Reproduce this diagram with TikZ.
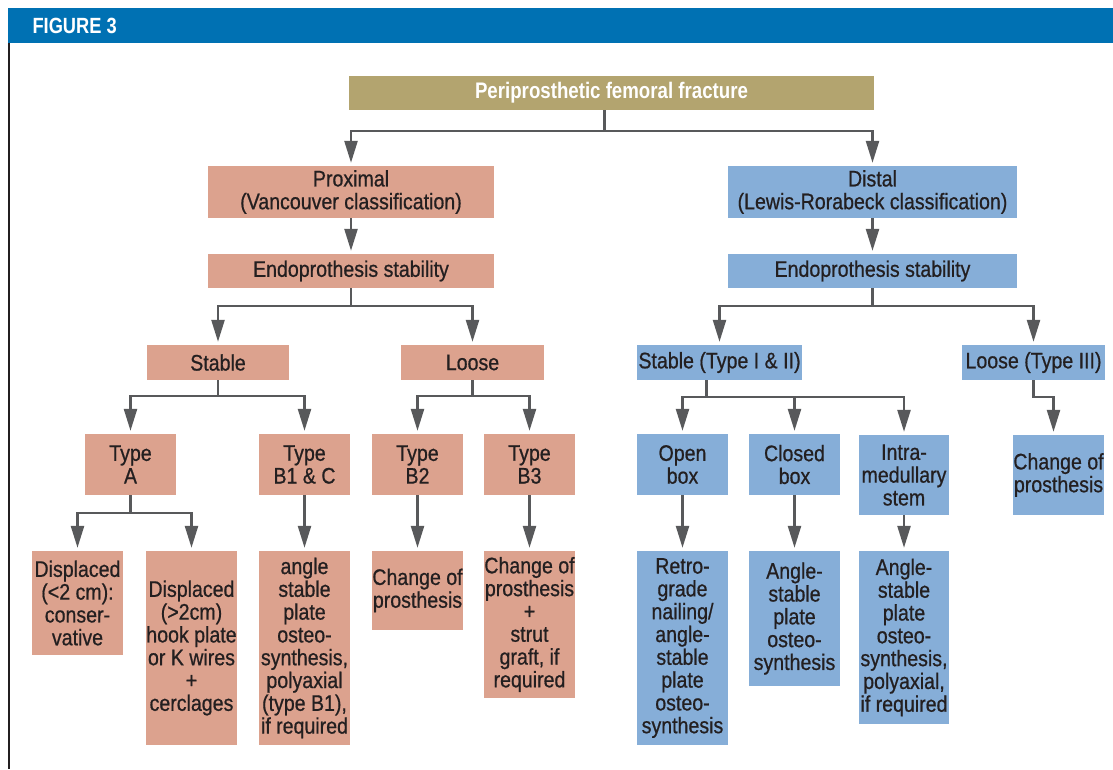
\documentclass[tikz,border=0pt]{standalone}
\usepackage{fontspec}
\setmainfont{Liberation Sans}[FakeStretch=0.87, FakeBold=0.7]
\newfontfamily\headfont{Liberation Sans}[FakeStretch=0.83]
\usetikzlibrary{arrows.meta}
\definecolor{figblue}{HTML}{0071B3}
\definecolor{topcol}{HTML}{B3A46F}
\definecolor{prxcol}{HTML}{DCA28E}
\definecolor{dstcol}{HTML}{86AED8}
\definecolor{txtcol}{HTML}{231F20}
\definecolor{arrcol}{HTML}{58595B}

\begin{document}
\begin{tikzpicture}[x=1pt,y=-1pt,
	box/.style={inner sep=0pt, align=center, text=txtcol, font=\fontsize{22.5}{22.8}\selectfont},
	prx/.style={box, fill=prxcol},
	dst/.style={box, fill=dstcol},
	sz/.style 2 args={minimum width=#1pt, minimum height=#2pt},
	arr/.style={draw=arrcol, line width=2.5pt, -{Triangle[width=13pt,length=22pt]}, shorten >=3pt}]
	\useasboundingbox (0,0) rectangle (1113,769);
	\fill[figblue] (8,8) rectangle (1113,43);
	\node[anchor=west, text=white, font=\fontsize{22}{22}\headfont\bfseries] (fig) at (29,26) {FIGURE 3};
	\draw[line width=2.5pt, txtcol] (9,43) -- (9,769);

	\node[box, fill=topcol, text=white, font=\fontsize{22.5}{22.8}\headfont\bfseries, sz={525}{34}] (top) at (611.5,93) {Periprosthetic femoral fracture};

	\node[prx, sz={286}{52}] (prox) at (351,192) {Proximal\\(Vancouver classification)};
	\node[prx, sz={286}{34}] (endoL) at (351,271) {Endoprothesis stability};
	\node[prx, sz={142}{35}] (stableP) at (218,362.5) {Stable};
	\node[prx, sz={143}{35}] (looseP) at (472.5,362.5) {Loose};
	\node[prx, sz={91}{61}] (typeA) at (130.5,464.5) {Type\\A};
	\node[prx, sz={91}{61}] (typeBC) at (304.5,464.5) {Type\\B1 \& C};
	\node[prx, sz={91}{61}] (typeBtwo) at (417.5,464.5) {Type\\B2};
	\node[prx, sz={91}{61}] (typeBthree) at (529.5,464.5) {Type\\B3};
	\node[prx, sz={91}{104}] (dispA) at (77.5,603) {Displaced\\(<2 cm):\\conser-\\vative};
	\node[prx, sz={91}{194}] (dispB) at (191.5,648) {Displaced\\(>2cm)\\hook plate\\or K wires\\+\\cerclages};
	\node[prx, sz={91}{194}] (angleBC) at (304.5,648) {angle\\stable\\plate\\osteo-\\synthesis,\\polyaxial\\(type B1),\\if required};
	\node[prx, sz={91}{79}] (changeBtwo) at (417.5,590.5) {Change of\\prosthesis};
	\node[prx, sz={91}{147}] (changeBthree) at (529.5,624.5) {Change of\\prosthesis\\+\\strut\\graft, if\\required};

	\node[dst, sz={289}{52}] (dist) at (872.5,192) {Distal\\(Lewis-Rorabeck classification)};
	\node[dst, sz={289}{34}] (endoR) at (872.5,271) {Endoprothesis stability};
	\node[dst, sz={165}{35}] (stableD) at (719.5,362.5) {Stable (Type I \& II)};
	\node[dst, sz={143}{35}] (looseD) at (1033.5,362.5) {Loose (Type III)};
	\node[dst, sz={91}{61}] (openbox) at (682.5,464.5) {Open\\box};
	\node[dst, sz={91}{61}] (closedbox) at (794.5,464.5) {Closed\\box};
	\node[dst, sz={90}{80}] (intra) at (904,475) {Intra-\\medullary\\stem};
	\node[dst, sz={91}{80}] (changeD) at (1058.5,475) {Change of\\prosthesis};
	\node[dst, sz={91}{194}] (retro) at (682.5,648) {Retro-\\grade\\nailing/\\angle-\\stable\\plate\\osteo-\\synthesis};
	\node[dst, sz={91}{135}] (angleC) at (794.5,618.5) {Angle-\\stable\\plate\\osteo-\\synthesis};
	\node[dst, sz={90}{173}] (angleI) at (904,637.5) {Angle-\\stable\\plate\\osteo-\\synthesis,\\polyaxial,\\if required};

	\foreach \a in {prox,dist}
		\draw[arr] ([xshift=-7pt]top.south) -- ++(0,21) -| (\a.north);
	\draw[arr] (prox) -- (endoL);
	\draw[arr] (dist) -- (endoR);
	\foreach \a in {stableP,looseP}
		\draw[arr] (endoL.south) -- ++(0,18) -| (\a.north);
	\foreach \a in {stableD,looseD}
		\draw[arr] (endoR.south) -- ++(0,18) -| (\a.north);
	\foreach \a in {typeA,typeBC}
		\draw[arr] (stableP.south) -- ++(0,16) -| (\a.north);
	\foreach \a in {typeBtwo,typeBthree}
		\draw[arr] (looseP.south) -- ++(0,16) -| (\a.north);
	\foreach \a in {dispA,dispB}
		\draw[arr] (typeA.south) -- ++(0,18) -| (\a.north);
	\draw[arr] (typeBC) -- (angleBC);
	\draw[arr] (typeBtwo) -- (changeBtwo);
	\draw[arr] (typeBthree) -- (changeBthree);
	\foreach \a in {openbox,closedbox,intra}
		\draw[arr] ([xshift=-13pt]stableD.south) -- ++(0,17) -| (\a.north);
	\draw[arr] (looseD.south) -- ++(0,17) -| ([xshift=-5pt]changeD.north);
	\draw[arr] (openbox) -- (retro);
	\draw[arr] (closedbox) -- (angleC);
	\draw[arr] (intra) -- (angleI);
\end{tikzpicture}
\end{document}
